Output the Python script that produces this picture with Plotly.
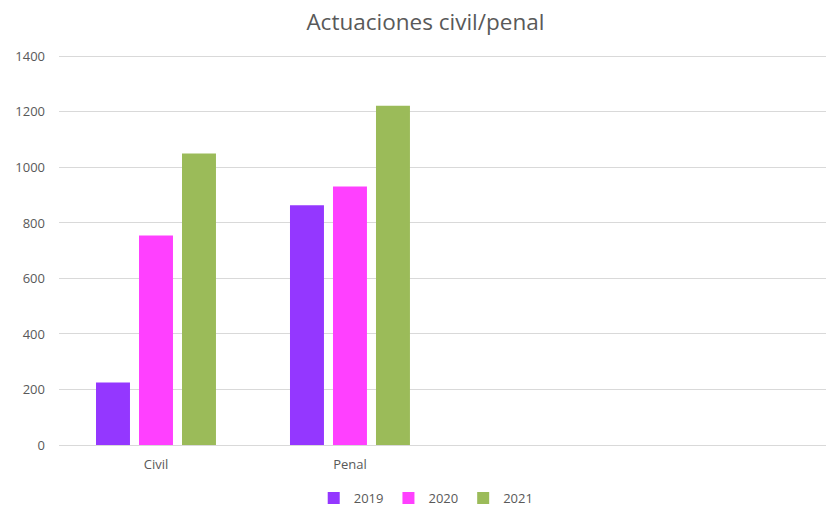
import plotly.graph_objects as go

categories = ["Civil", "Penal"]
series_names = ["2019", "2020", "2021"]
values_2019 = [225, 864]
values_2020 = [755, 931]
values_2021 = [1050, 1222]
colors = ["#9437FF", "#FF40FF", "#9BBB59"]
y_ticks = [0, 200, 400, 600, 800, 1000, 1200, 1400]

fig = go.Figure()
for name, vals, col in zip(series_names, [values_2019, values_2020, values_2021], colors):
    fig.add_trace(go.Bar(x=categories, y=vals, name=name, marker_color=col,
                         marker_line_width=0))

fig.update_layout(
    width=826, height=510,
    margin=dict(l=59, r=0, t=55, b=65),
    paper_bgcolor="white", plot_bgcolor="white",
    barmode="group", bargap=0.335, bargroupgap=0.21,
    font=dict(family="Open Sans, Liberation Sans, sans-serif", color="#595959", size=12),
    title=dict(text="Actuaciones civil/penal", x=0.515, xref="container", xanchor="center",
               y=1 - 22 / 510, yref="container", yanchor="middle",
               font=dict(size=22.5, color="#595959")),
    showlegend=True,
    legend=dict(orientation="h", x=0.516, xref="container", xanchor="center",
                y=1 - 498 / 510, yref="container", yanchor="middle",
                font=dict(size=13, color="#595959"), itemwidth=30),
    xaxis=dict(type="category", range=[-0.5, 3.454], showgrid=False, showline=False,
               ticks="", ticklabelstandoff=10, tickfont=dict(size=13, color="#595959")),
    yaxis=dict(range=[0, 1405], tickvals=y_ticks, showgrid=True, gridcolor="#D9D9D9",
               gridwidth=1, zeroline=True, zerolinecolor="#D9D9D9", zerolinewidth=1,
               showline=False, ticks="", ticklabelstandoff=13,
               tickfont=dict(size=13, color="#595959")),
)

fig.write_html("out.html", config={"displayModeBar": False},
               post_script="document.body.style.margin='0px';")
